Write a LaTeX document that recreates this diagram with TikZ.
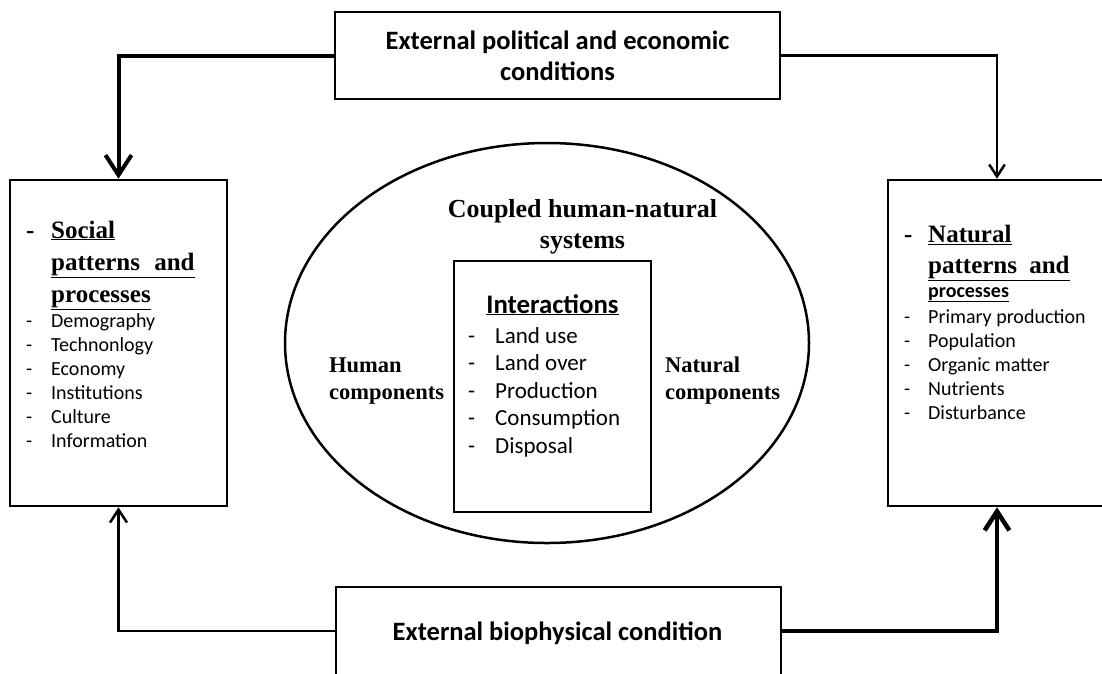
\documentclass[tikz,border=0pt]{standalone}
\usepackage{fontspec}
\setmainfont{Liberation Serif}
\newfontfamily\calfont{Carlito}
\usetikzlibrary{arrows.meta,shapes.geometric}
\tikzset{
  boxnode/.style={draw, line width=2.5pt, inner sep=0pt, fill=white},
  headline/.style={anchor=base west, inner sep=0pt, font=\bfseries\fontsize{25}{30}\selectfont},
  listnode/.style={anchor=base west, inner sep=0pt, font=\calfont\fontsize{20}{24}\selectfont},
  centerlist/.style={anchor=base west, inner sep=0pt, font=\calfont\fontsize{23}{27.5}\selectfont},
  complabel/.style={anchor=base west, inner sep=0pt, align=left, font=\bfseries\fontsize{22.5}{27}\selectfont},
  barb/.style={-{Straight Barb[length=#1pt, width=1.3*#1pt]}},
}
\begin{document}
\begin{tikzpicture}[x=1pt, y=-1pt]
\useasboundingbox (0,0) rectangle (1102,673);
\clip (0,0) rectangle (1102,673);
% boxes
\node[boxnode, minimum width=445pt, minimum height=87pt, align=center,
      font=\calfont\bfseries\fontsize{26.5}{31}\selectfont] (T) at (557.5,55.5)
      {External political and economic\\conditions};
\node[boxnode, minimum width=445pt, minimum height=88pt] (B) at (558.5,631) {};
\node[inner sep=0pt, anchor=base, font=\calfont\bfseries\fontsize{26.5}{30}\selectfont] (Btext) at (557.5,640) {External biophysical condition};
\node[boxnode, minimum width=217pt, minimum height=326pt] (L) at (118.5,343) {};
\node[boxnode, minimum width=218pt, minimum height=326pt] (R) at (997,343) {};
\node[draw, ellipse, line width=2.5pt, inner sep=0pt, minimum width=524pt, minimum height=400pt] (E) at (547,343) {};
\node[boxnode, minimum width=197pt, minimum height=251pt] (I) at (552.5,386.5) {};

% connectors
\draw[line width=4pt, barb=20] (T.west) -| (L.north);
\draw[line width=2.5pt, barb=12] (T.east) -| (R.north);
\draw[line width=2.5pt, barb=13] (B.west) -| (L.south);
\draw[line width=4.5pt, barb=19] (B.east) -| (R.south);

% left box text
\node[headline] (Ldash) at (26,238) {-};
\node[headline] (Lh1) at (51,238) {\underline{Social}};
\node[headline] (Lh2) at (51,270) {\underline{patterns\hspace{8pt} and}};
\node[headline] (Lh3) at (51,302) {\underline{processes}};
\node[listnode] (Llist) at (26,327) {\begin{tabular}[t]{@{}p{25pt}@{}l@{}}
-&Demography\\ -&Technonlogy\\ -&Economy\\ -&Institutions\\ -&Culture\\ -&Information
\end{tabular}};

% right box text
\node[headline] (Rdash) at (904,242) {-};
\node[headline] (Rh1) at (928,242) {\underline{Natural}};
\node[headline] (Rh2) at (928,273) {\underline{patterns\hspace{6pt} and}};
\node[anchor=base west, inner sep=0pt, font=\calfont\bfseries\fontsize{20}{24}\selectfont] (Rh3) at (928,297) {\underline{processes}};
\node[listnode] (Rlist) at (904,323) {\begin{tabular}[t]{@{}p{24pt}@{}l@{}}
-&Primary production\\ -&Population\\ -&Organic matter\\ -&Nutrients\\ -&Disturbance
\end{tabular}};

% centre text
\node[inner sep=0pt, anchor=base, font=\bfseries\fontsize{26}{31}\selectfont] (C1) at (582.5,217) {Coupled human-natural};
\node[inner sep=0pt, anchor=base, font=\bfseries\fontsize{26}{31}\selectfont] (C2) at (582.5,248) {systems};
\node[inner sep=0pt, anchor=base, font=\calfont\bfseries\fontsize{26.8}{30}\selectfont] (Ih) at (552.5,313) {\underline{Interactions}};
\node[centerlist] (Ilist) at (468,343) {\begin{tabular}[t]{@{}p{27pt}@{}l@{}}
-&Land use\\ -&Land over\\ -&Production\\ -&Consumption\\ -&Disposal
\end{tabular}};
\node[complabel] (H) at (329,399) {Human\\components};
\node[complabel] (N) at (665,399) {Natural\\components};
\end{tikzpicture}
\end{document}
